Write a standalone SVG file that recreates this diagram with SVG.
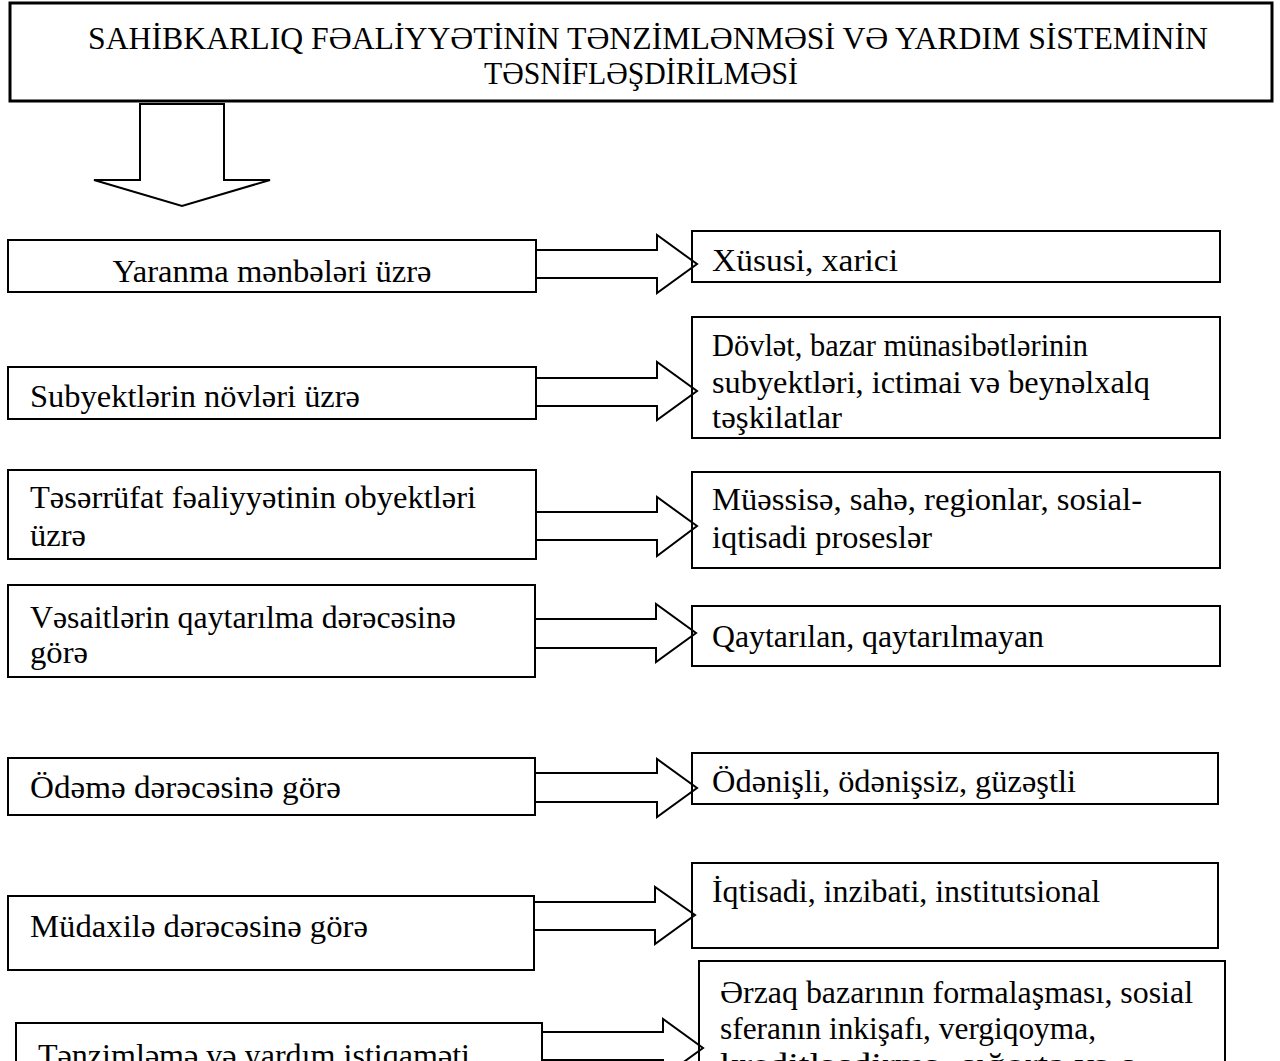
<svg xmlns="http://www.w3.org/2000/svg" width="1280" height="1061" viewBox="0 0 1280 1061">
<style>
  .box { fill: none; stroke: #000; stroke-width: 2; }
  .title { fill: none; stroke: #000; stroke-width: 3; }
  .arr { fill: #fff; stroke: #000; stroke-width: 2; stroke-linejoin: miter; }
  text { font-family: "Liberation Serif", "Times New Roman", serif; font-size: 32px; fill: #000; }
  .t { font-size: 31px; text-anchor: middle; }
  .c { text-anchor: middle; }
</style>
<rect width="1280" height="1061" fill="#fff"/>
<g id="connectors">
  <polygon class="arr" points="140,104 224,104 224,180 270,180 182,206 94,180 140,180"/>
  <polygon class="arr" points="536,250 657,250 657,235 697,264 657,293 657,278 536,278"/>
  <polygon class="arr" points="536,378 657,378 657,362 697,391 657,420 657,406 536,406"/>
  <polygon class="arr" points="536,512 657,512 657,497 697,526 657,556 657,540 536,540"/>
  <polygon class="arr" points="535,619 656,619 656,604 696,633 656,662 656,648 535,648"/>
  <polygon class="arr" points="535,773 657,773 657,759 697,788 657,817 657,802 535,802"/>
  <polygon class="arr" points="534,902 655,902 655,887 695,915 655,944 655,930 534,930"/>
  <polygon class="arr" points="542,1032 663,1032 663,1019 703,1048 663,1077 663,1060 542,1060"/>
</g>
<g id="title">
  <rect class="title" x="10" y="3" width="1262" height="98"/>
  <text class="t" x="648" y="49" textLength="1120" lengthAdjust="spacingAndGlyphs">SAHİBKARLIQ FƏALİYYƏTİNİN TƏNZİMLƏNMƏSİ VƏ YARDIM SİSTEMİNİN</text>
  <text class="t" x="641" y="84" textLength="314" lengthAdjust="spacingAndGlyphs">TƏSNİFLƏŞDİRİLMƏSİ</text>
</g>
<g id="n1">
  <rect class="box" x="8" y="240" width="528" height="52"/>
  <text class="c" x="272" y="282" textLength="319" lengthAdjust="spacingAndGlyphs">Yaranma mənbələri üzrə</text>
</g>
<g id="r1">
  <rect class="box" x="692" y="231" width="528" height="51"/>
  <text x="712" y="271" textLength="186" lengthAdjust="spacingAndGlyphs">Xüsusi,  xarici</text>
</g>
<g id="n2">
  <rect class="box" x="8" y="367" width="528" height="52"/>
  <text x="30" y="407" textLength="330" lengthAdjust="spacingAndGlyphs">Subyektlərin növləri üzrə</text>
</g>
<g id="r2">
  <rect class="box" x="692" y="317" width="528" height="121"/>
  <text x="712" y="356" textLength="376" lengthAdjust="spacingAndGlyphs">Dövlət, bazar münasibətlərinin</text>
  <text x="712" y="393" textLength="438" lengthAdjust="spacingAndGlyphs">subyektləri, ictimai və beynəlxalq</text>
  <text x="712" y="428" textLength="130" lengthAdjust="spacingAndGlyphs">təşkilatlar</text>
</g>
<g id="n3">
  <rect class="box" x="8" y="470" width="528" height="89"/>
  <text x="30" y="508" textLength="446" lengthAdjust="spacingAndGlyphs">Təsərrüfat fəaliyyətinin obyektləri</text>
  <text x="30" y="546" textLength="56" lengthAdjust="spacingAndGlyphs">üzrə</text>
</g>
<g id="r3">
  <rect class="box" x="692" y="472" width="528" height="96"/>
  <text x="712" y="510" textLength="430" lengthAdjust="spacingAndGlyphs">Müəssisə, sahə, regionlar, sosial-</text>
  <text x="712" y="548" textLength="220" lengthAdjust="spacingAndGlyphs">iqtisadi proseslər</text>
</g>
<g id="n4">
  <rect class="box" x="8" y="585" width="527" height="92"/>
  <text x="30" y="628" textLength="426" lengthAdjust="spacingAndGlyphs">Vəsaitlərin qaytarılma dərəcəsinə</text>
  <text x="30" y="663" textLength="58" lengthAdjust="spacingAndGlyphs">görə</text>
</g>
<g id="r4">
  <rect class="box" x="692" y="606" width="528" height="60"/>
  <text x="712" y="647" textLength="332" lengthAdjust="spacingAndGlyphs">Qaytarılan, qaytarılmayan</text>
</g>
<g id="n5">
  <rect class="box" x="8" y="758" width="527" height="57"/>
  <text x="30" y="798" textLength="311" lengthAdjust="spacingAndGlyphs">Ödəmə dərəcəsinə görə</text>
</g>
<g id="r5">
  <rect class="box" x="692" y="753" width="526" height="51"/>
  <text x="712" y="792" textLength="364" lengthAdjust="spacingAndGlyphs">Ödənişli, ödənişsiz, güzəştli</text>
</g>
<g id="n6">
  <rect class="box" x="8" y="896" width="526" height="74"/>
  <text x="30" y="937" textLength="338" lengthAdjust="spacingAndGlyphs">Müdaxilə dərəcəsinə görə</text>
</g>
<g id="r6">
  <rect class="box" x="692" y="863" width="526" height="85"/>
  <text x="712" y="902" textLength="388" lengthAdjust="spacingAndGlyphs">İqtisadi, inzibati, institutsional</text>
</g>
<g id="n7">
  <rect class="box" x="16" y="1023" width="526" height="80"/>
  <text x="38" y="1066" textLength="432" lengthAdjust="spacingAndGlyphs">Tənzimləmə və yardım istiqaməti</text>
</g>
<g id="r7">
  <rect class="box" x="699" y="961" width="526" height="120"/>
  <text x="720" y="1003" textLength="473" lengthAdjust="spacingAndGlyphs">Ərzaq bazarının formalaşması, sosial</text>
  <text x="720" y="1039" textLength="376" lengthAdjust="spacingAndGlyphs">sferanın inkişafı, vergiqoyma,</text>
  <text x="720" y="1075" textLength="425" lengthAdjust="spacingAndGlyphs">kreditləşdirmə, sığorta və s.</text>
</g>
</svg>
